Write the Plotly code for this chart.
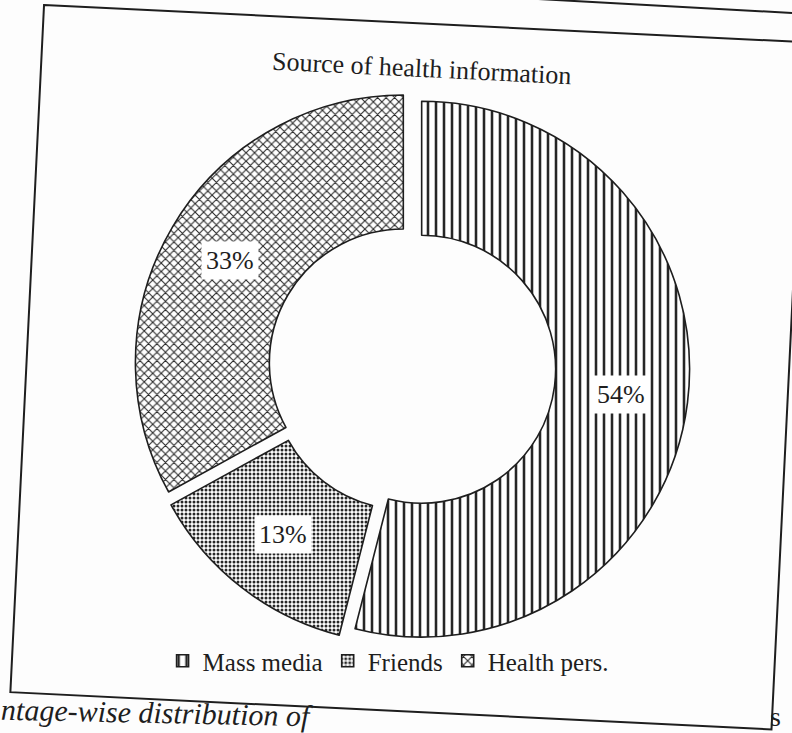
import math
import plotly.graph_objects as go

# Share of respondents by source of health information (%)
chart_title = "Source of health information"
sources = ["Mass media", "Friends", "Health pers."]
shares = [54, 13, 33]
fill_shapes = ["|", ".", "x"]
caption_text = "ntage-wise distribution of"
caption_tail = "s"

W, H = 792, 733
HOLE = 0.5
PULL = 0.037
DOM_X = [0.169, 0.871]
DOM_Y = [0.119, 0.877]
SERIF = "Liberation Serif, Times New Roman, serif"
INK = "#1e1e1e"
TILT = 2.8  # degrees, the whole framed chart leans slightly clockwise

fig = go.Figure(
    go.Pie(
        labels=sources,
        values=shares,
        sort=False,
        direction="clockwise",
        rotation=0,
        hole=HOLE,
        pull=[PULL] * len(shares),
        textinfo="none",
        hoverinfo="label+percent",
        domain=dict(x=DOM_X, y=DOM_Y),
        marker=dict(
            colors=["white"] * len(shares),
            line=dict(color=INK, width=1.6),
            pattern=dict(
                shape=fill_shapes,
                fgcolor="#262626",
                bgcolor="white",
                size=[8, 4, 6],
                solidity=[0.32, 0.45, 0.32],
            ),
        ),
    )
)

# Percent labels in white boxes at the middle of each ring segment
box_w = (DOM_X[1] - DOM_X[0]) * W
box_h = (DOM_Y[1] - DOM_Y[0]) * H
cx = (DOM_X[0] + DOM_X[1]) / 2 * W
cy = (1 - (DOM_Y[0] + DOM_Y[1]) / 2) * H
radius = min(box_w, box_h) / (2 * (1 + PULL))
total = sum(shares)
start = 0.0
for v in shares:
    frac = v / total
    mid = (start + frac / 2) * 2 * math.pi
    start += frac
    dist = radius * ((1 + HOLE) / 2 + PULL)
    px = cx + dist * math.sin(mid)
    py = cy - dist * math.cos(mid)
    fig.add_annotation(
        x=px / W, y=1 - py / H, xref="paper", yref="paper",
        xanchor="center", yanchor="middle",
        text=f"{round(frac * 100)}%", showarrow=False,
        font=dict(family=SERIF, size=26, color=INK),
        bgcolor="white", borderpad=4,
    )

# Title
fig.add_annotation(
    x=422 / W, y=1 - 68 / H, xref="paper", yref="paper",
    xanchor="center", yanchor="middle",
    text=chart_title, showarrow=False, textangle=TILT,
    font=dict(family=SERIF, size=26, color=INK),
)

# Caption fragments below the frame
fig.add_annotation(
    x=0, y=0, xref="paper", yref="paper", xanchor="left", yanchor="bottom",
    text=f"<i>{caption_text}</i>", showarrow=False, textangle=1.2,
    font=dict(family=SERIF, size=30, color=INK), borderpad=0,
)
fig.add_annotation(
    x=775 / W, y=0, xref="paper", yref="paper", xanchor="center", yanchor="bottom",
    text=caption_tail, showarrow=False, borderpad=0,
    font=dict(family=SERIF, size=28, color=INK),
)

# Tilted frame around the chart
theta = math.radians(TILT)
ux, uy = math.cos(theta), math.sin(theta)
vx, vy = -math.sin(theta), math.cos(theta)
tl = (44, 5)
fw, fh = 762, 688
corners = [
    tl,
    (tl[0] + fw * ux, tl[1] + fw * uy),
    (tl[0] + fw * ux + fh * vx, tl[1] + fw * uy + fh * vy),
    (tl[0] + fh * vx, tl[1] + fh * vy),
]
path = "M " + " L ".join(f"{x / W:.4f},{1 - y / H:.4f}" for x, y in corners) + " Z"
fig.add_shape(type="path", path=path, xref="paper", yref="paper",
              line=dict(color=INK, width=2))
# page edge at the top right
fig.add_shape(type="line", xref="paper", yref="paper",
              x0=520 / W, y0=1 + 2 / H, x1=1.0, y1=1 - 13 / H,
              line=dict(color=INK, width=2))

fig.update_layout(
    width=W, height=H,
    margin=dict(l=0, r=0, t=0, b=0),
    paper_bgcolor="#fdfdfd",
    plot_bgcolor="#fdfdfd",
    showlegend=True,
    legend=dict(
        orientation="h", x=0.49, xanchor="center", y=1 - 661 / H, yanchor="middle",
        font=dict(family=SERIF, size=25, color=INK),
        bgcolor="rgba(0,0,0,0)", traceorder="normal",
    ),
)

fig.write_html("out.html")
